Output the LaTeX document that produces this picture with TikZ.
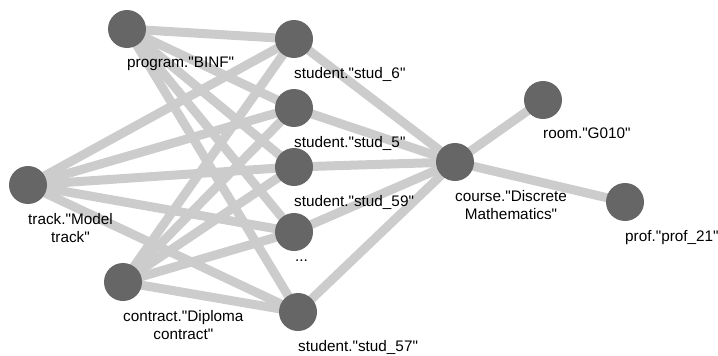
\documentclass[tikz,border=0pt]{standalone}
\usepackage{fontspec}
\setmainfont{Liberation Sans}[Ligatures=TeXOff]
\usetikzlibrary{backgrounds}
\begin{document}
\begin{tikzpicture}[x=1pt,y=-1pt,
  vertex/.style={circle,fill=vgray,draw=none,minimum size=38pt,inner sep=0pt},
  link/.style={draw=egray,line width=9pt},
  tag/.style={anchor=north west,inner sep=0pt,align=center,
    font=\fontsize{15.3}{18.5}\selectfont,text=black}]
\definecolor{vgray}{HTML}{666666}
\definecolor{egray}{HTML}{CCCCCC}
\useasboundingbox (0,0) rectangle (718,356);

% vertices
\node[vertex] (prog)   at (127,29)  {};
\node[vertex] (track)  at (28,185)  {};
\node[vertex] (contr)  at (123,282) {};
\node[vertex] (s6)     at (294,39)  {};
\node[vertex] (s5)     at (294,108) {};
\node[vertex] (s59)    at (294,167) {};
\node[vertex] (sdots)  at (294,232) {};
\node[vertex] (s57)    at (298,312) {};
\node[vertex] (course) at (455,162) {};
\node[vertex] (room)   at (543,100) {};
\node[vertex] (prof)   at (625,202) {};

% edges, behind the vertices
\begin{pgfonlayer}{background}
  \foreach \a in {prog,track,contr,course}
    \foreach \b in {s6,s5,s59,sdots,s57}
      \draw[link] (\a.center) -- (\b.center);
  \draw[link] (course.center) -- (room.center);
  \draw[link] (course.center) -- (prof.center);
\end{pgfonlayer}

% labels
\node[tag] (lprog)   at (127,57)  {program."BINF"};
\node[tag] (ltrack)  at (28,213)  {track."Model\\track"};
\node[tag] (lcontr)  at (123,310) {contract."Diploma\\contract"};
\node[tag] (ls6)     at (294,67)  {student."stud\_6"};
\node[tag] (ls5)     at (294,136) {student."stud\_5"};
\node[tag] (ls59)    at (294,195) {student."stud\_59"};
\node[tag] (ldots)   at (295,260) {...};
\node[tag] (ls57)    at (298,340) {student."stud\_57"};
\node[tag] (lcourse) at (455,190) {course."Discrete\\Mathematics"};
\node[tag] (lroom)   at (543,128) {room."G010"};
\node[tag] (lprof)   at (625,230) {prof."prof\_21"};
\end{tikzpicture}
\end{document}
